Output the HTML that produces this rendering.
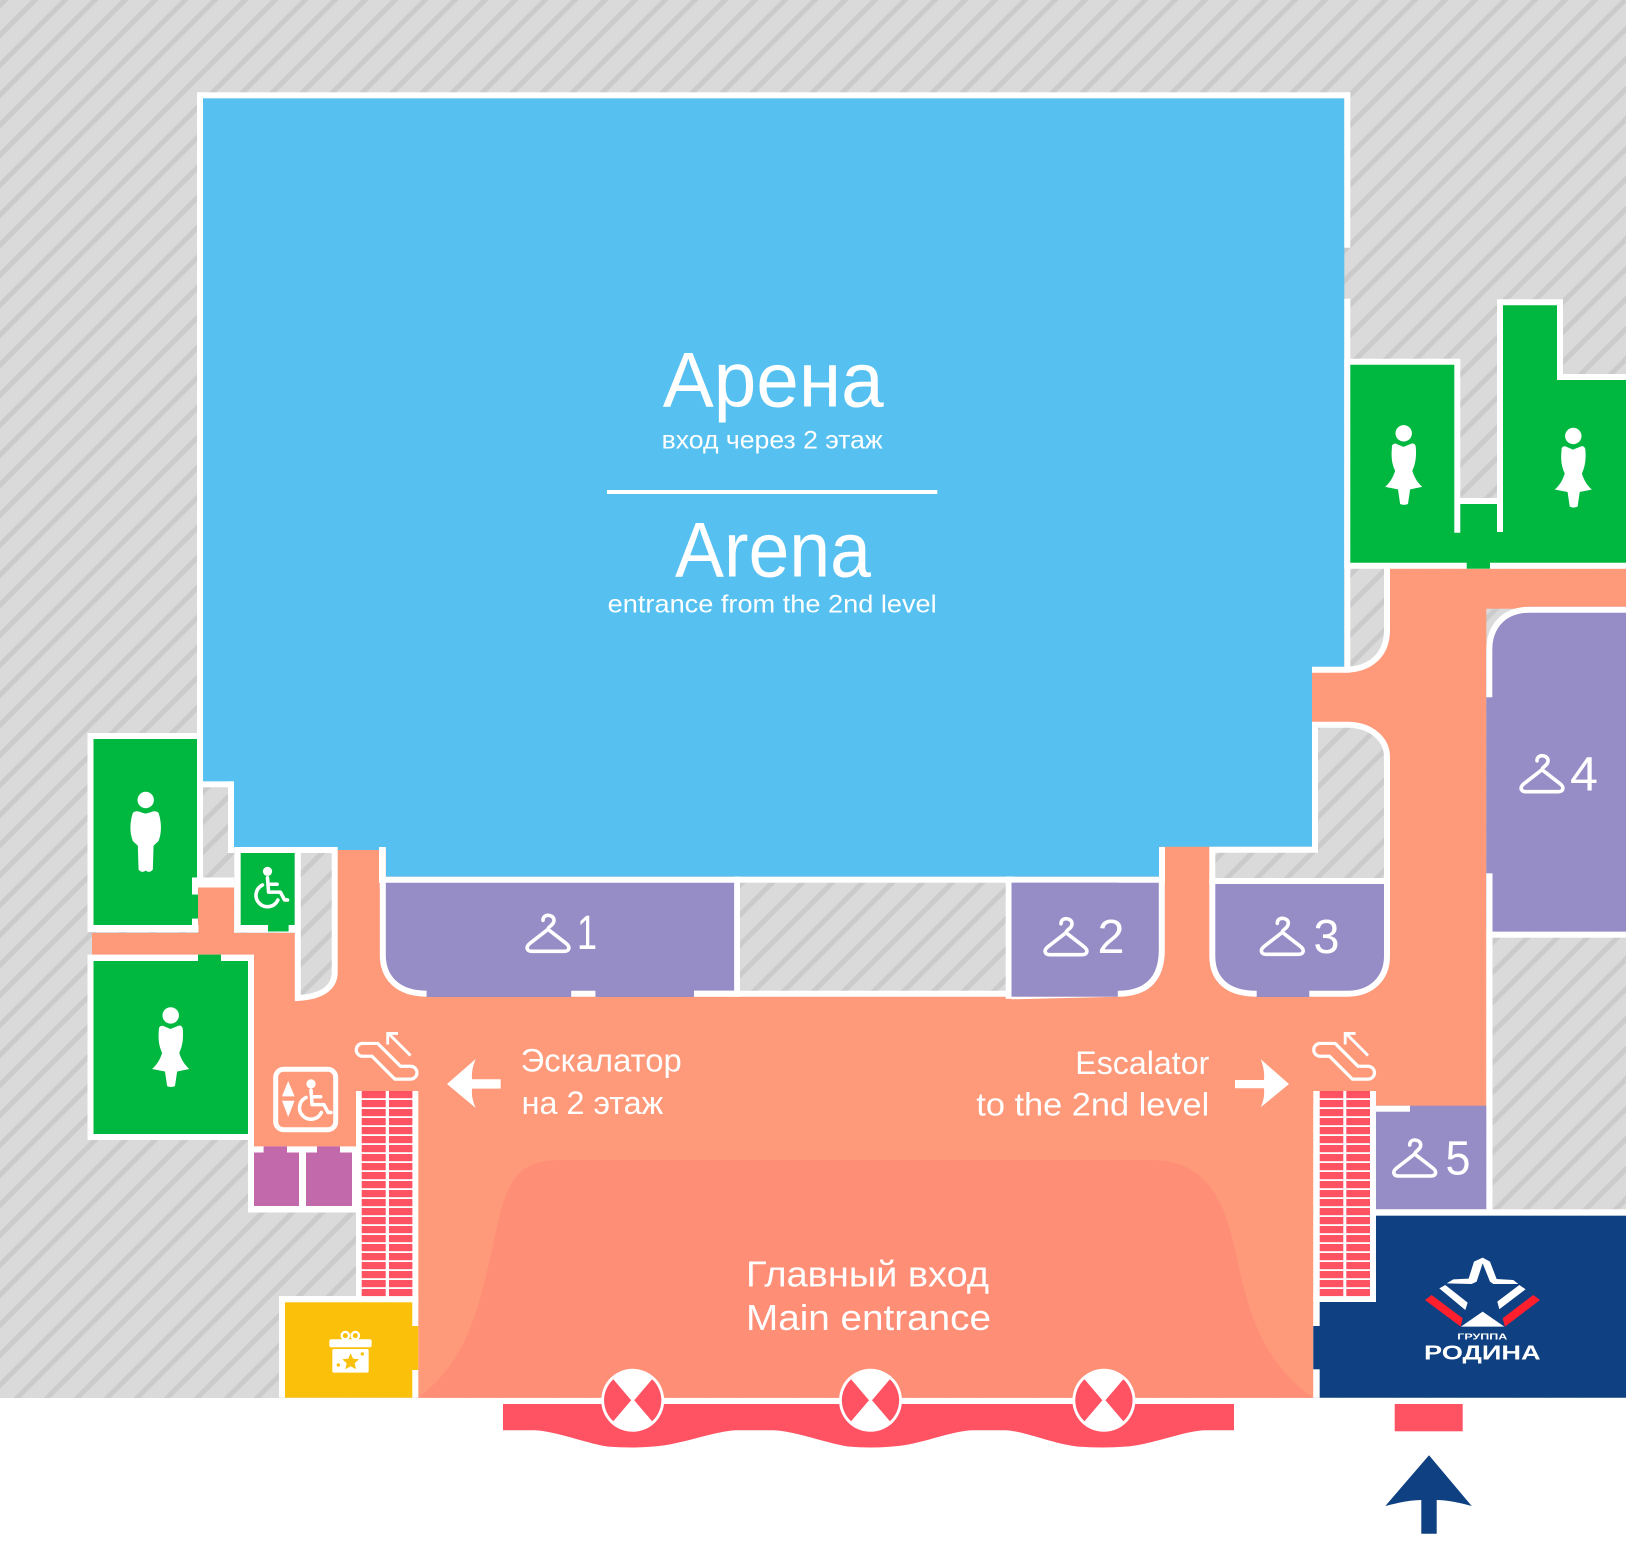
<!DOCTYPE html>
<html><head><meta charset="utf-8"><title>Floor plan</title>
<style>html,body{margin:0;padding:0;background:#fff}svg{display:block}text{font-family:"Liberation Sans",sans-serif;fill:#fff}</style></head>
<body>
<svg width="1632" height="1556" viewBox="0 0 1632 1556" xmlns="http://www.w3.org/2000/svg">
<defs>
<pattern id="h" patternUnits="userSpaceOnUse" width="30" height="30">
<rect width="30" height="30" fill="#dadada"/>
<path d="M-5 10L10 -5M-5 40L40 -5" stroke="#cbcbcc" stroke-width="5"/>
</pattern>
<pattern id="st" patternUnits="userSpaceOnUse" width="100" height="9" patternTransform="translate(0,1091)">
<rect width="100" height="7.2" fill="#ff5263"/>
</pattern>
<g id="hanger"><path d="M23 15L5 29C0 33 2 37 7 37H39C44 37 46 33 41 29L23 15C23 12 29 11 29 6C29 2 25 1 23 1C20 1 18 3 18 6" fill="none" stroke="#fff" stroke-width="3.6" stroke-linecap="round" stroke-linejoin="round"/></g>
<g id="woman"><g transform="scale(.357)"><circle r="23" fill="#fff"/><path fill="#fff" d="M-33 40C-34 32-28 28-22 29L-1 38L22 29C28 26 34 32 34 40C36 70 32 88 24 105C30 125 40 140 52 150L18 157L12 198Q0 203-10 198L-16 157L-52 150C-40 140-30 125-24 105C-32 88-36 70-33 40Z"/></g></g>
<g id="wc"><g transform="scale(.357)"><circle r="13" fill="#fff"/><path d="M0 18L3 58H36L48 80H56M3 36H27M-14 38A32 32 0 1 0 29 80" fill="none" stroke="#fff" stroke-width="10" stroke-linecap="round" stroke-linejoin="round"/></g></g>
<g id="esc"><g transform="translate(0,700) scale(.357)"><path d="M1018 962H1058L1122 1026H1150A18 18 0 0 1 1150 1062H1106L1042 998H1014A18 18 0 0 1 1018 962Z" fill="none" stroke="#fff" stroke-width="9"/><path d="M1150 996L1090 936M1086 965V934H1115" fill="none" stroke="#fff" stroke-width="8"/></g></g>
<g id="door"><circle r="31.5" fill="#fff"/><path fill="#ff5263" d="M-1.5 0L-19.4-21A28.5 28.5 0 0 0-19.4 21ZM1.5 0L19.4-21A28.5 28.5 0 0 1 19.4 21Z"/></g>
</defs>

<rect x="0" y="0" width="1632" height="1556" fill="#fff"/>
<rect x="0" y="0" width="1626" height="1398" fill="url(#h)"/>

<!-- orange floor -->
<g fill="#fe997a">
<rect x="92" y="933" width="210" height="22"/>
<rect x="198" y="887" width="36" height="46"/>
<rect x="254" y="955" width="164" height="191.4"/>
<rect x="295" y="845" width="1191" height="261"/>
<rect x="418" y="1091" width="895.3" height="306.7"/>
<rect x="1390" y="568.7" width="236" height="40"/>
<rect x="1390" y="568.7" width="96.3" height="537"/>
<rect x="1312" y="568.7" width="78" height="285"/>
</g>
<path fill="#ff8e76" d="M418 1397.7C470 1360 480 1300 492 1250C505 1190 510 1160 560 1160H1150C1200 1160 1222 1190 1235 1250C1248 1310 1260 1360 1313 1397.7Z"/>

<!-- arena -->
<polygon fill="#56c1f0" points="203,98 1344.3,98 1344.3,667 1312,667 1312,846.7 1159,846.7 1159,876.7 386,876.7 386,850 337.5,850 337.5,847 234,847 234,781.4 203,781.4"/>

<!-- upper hatch near arena -->
<path d="M1347 566H1387V630C1387 655 1370 669.7 1345 669.7Z" fill="url(#h)"/>
<path d="M1387 566V630C1387 655 1370 669.7 1345 669.7H1312" fill="none" stroke="#fff" stroke-width="6"/>

<!-- arena walls -->
<g fill="#fff">
<rect x="197" y="92.3" width="1153.3" height="6"/>
<rect x="197" y="92.3" width="6" height="795"/>
<rect x="1344.3" y="92.3" width="6" height="155.4"/>
<rect x="1344.3" y="298.7" width="6" height="374"/>
<rect x="203" y="781.4" width="31" height="6"/>
<rect x="228" y="781.4" width="6" height="72"/>
<rect x="234.3" y="847" width="103.2" height="6"/>
<rect x="379" y="847" width="6.8" height="36"/>
<rect x="1159" y="847" width="6" height="36"/>
</g>

<!-- left alcove hatch -->
<polygon fill="url(#h)" points="203,787.4 228,787.4 228,853 234.3,853 234.3,877.5 203,877.5"/>
<rect x="197" y="877.5" width="37.3" height="10" fill="#fff"/>

<!-- men's wc -->
<rect x="87.5" y="733" width="110" height="199" fill="#fff"/>
<rect x="93.5" y="739" width="103.5" height="186" fill="#00b83f"/>
<rect x="197" y="894.6" width="1" height="24" fill="#00b83f"/>
<rect x="192" y="877.5" width="6" height="17" fill="#fff"/>
<rect x="192" y="918.6" width="6" height="7" fill="#fff"/>
<rect x="197" y="925" width="1.5" height="7" fill="#fff"/>

<!-- wheelchair room -->
<rect x="234.3" y="847" width="6.4" height="85.4" fill="#fff"/>
<rect x="234.3" y="925" width="61" height="7.4" fill="#fff"/>
<rect x="240.7" y="853" width="54" height="72" fill="#00b83f"/>
<rect x="268" y="925" width="20.6" height="6.5" fill="#00b83f"/>
<path d="M297.8 850H334.7V972C334.7 990 318 997 297.8 998Z" fill="url(#h)" stroke="#fff" stroke-width="6"/>

<!-- women's wc left -->
<rect x="87.5" y="954.6" width="166.5" height="185.4" fill="#fff"/>
<rect x="93.5" y="961" width="154.5" height="173" fill="#00b83f"/>
<rect x="198" y="954.6" width="23" height="6.5" fill="#00b83f"/>

<!-- magenta rooms -->
<rect x="248" y="1140" width="108" height="72.5" fill="#fff"/>
<rect x="254" y="1140" width="102" height="6.4" fill="#fe997a"/>
<g fill="#c269ab">
<rect x="254" y="1152.5" width="45" height="53.5"/>
<rect x="306" y="1152.5" width="46" height="53.5"/>
<rect x="263.6" y="1146.4" width="23.4" height="6.2"/>
<rect x="317" y="1146.4" width="23" height="6.2"/>
</g>

<!-- rooms 1, 2 -->
<path d="M382.8 879.7H737.2V993.7H426.6C398 993.7 382.8 978 382.8 955Z" fill="#968dc7" stroke="#fff" stroke-width="6"/>
<rect x="426.6" y="990" width="144.6" height="7" fill="#968dc7"/>
<rect x="595.4" y="990" width="98.6" height="7" fill="#968dc7"/>
<rect x="694" y="990.7" width="46" height="6" fill="#fff"/>
<rect x="737" y="882" width="271.7" height="111" fill="url(#h)"/>
<rect x="734.3" y="876.7" width="5.7" height="118" fill="#fff"/>
<rect x="1005.8" y="876.7" width="5.7" height="122" fill="#fff"/>
<rect x="734.3" y="876.7" width="277.2" height="6" fill="#fff"/>
<polygon fill="#fff" points="734,990.7 1011.5,990.7 1011.5,999.3 1117,996.7 1011.5,996.7 734,996.7"/>
<path d="M1011.5 879.7H1161.8V950C1161.8 978 1148 993.7 1117.8 993.7H1011.5Z" fill="#968dc7" stroke="#fff" stroke-width="6"/>
<rect x="1008.5" y="876.7" width="6" height="6" fill="#fff"/>
<rect x="1011.5" y="882.7" width="106.3" height="114" fill="#968dc7"/>
<rect x="1005.8" y="876.7" width="5.7" height="122" fill="#fff"/>

<!-- right lower hatch and room 3 -->
<path d="M1315 724.7H1347C1372 724.7 1387 740 1387 757V881H1212.3V849.7H1315Z" fill="url(#h)" stroke="#fff" stroke-width="6"/>
<path d="M1212.3 881V956C1212.3 980 1228 993.7 1256 993.7H1347C1372 993.7 1387 978 1387 956V881Z" fill="#968dc7" stroke="#fff" stroke-width="6"/>
<rect x="1256.7" y="990" width="52.6" height="7" fill="#968dc7"/>

<!-- right wc -->
<polygon fill="#fff" points="1344.3,358.7 1460.3,358.7 1460.3,498 1497,498 1497,299.3 1563,299.3 1563,374 1626,374 1626,568.7 1344.3,568.7"/>
<polygon fill="#00b83f" points="1350.3,364.7 1454.3,364.7 1454.3,532.7 1460.3,532.7 1460.3,504 1497,504 1497,532 1503,532 1503,305.3 1557,305.3 1557,380 1626,380 1626,562.7 1350.3,562.7"/>
<rect x="1466.7" y="562" width="23.3" height="6.7" fill="#00b83f"/>

<!-- room 4 -->
<path d="M1486.3 697.3V650C1486.3 625 1505 606.7 1530 606.7H1626V931.7H1486.3Z" fill="#968dc7"/>
<path d="M1489.3 697.3V650C1489.3 625 1505 609.7 1530 609.7H1626" fill="none" stroke="#fff" stroke-width="6"/>
<rect x="1486.3" y="873.3" width="6.2" height="342" fill="#fff"/>
<rect x="1492" y="931.7" width="134" height="6" fill="#fff"/>

<!-- room 5 and Rodina -->
<rect x="1376" y="1105.7" width="110.3" height="103.6" fill="#968dc7"/>
<rect x="1376" y="1105.7" width="34" height="6" fill="#fff"/>
<rect x="1376" y="1209.3" width="250" height="6.4" fill="#fff"/>
<rect x="1376" y="1215.7" width="250" height="182" fill="#0e4082"/>
<rect x="1313.3" y="1091" width="62.7" height="211" fill="#fff"/>
<rect x="1313.3" y="1296" width="6.4" height="101.7" fill="#fff"/>
<rect x="1319.7" y="1302" width="56.5" height="95.7" fill="#0e4082"/>
<rect x="1313.3" y="1326" width="7" height="43.3" fill="#0e4082"/>

<!-- left escalator + yellow -->
<rect x="356" y="1091" width="62.3" height="212" fill="#fff"/>
<rect x="279" y="1296" width="139.3" height="101.7" fill="#fff"/>
<rect x="285" y="1302.3" width="127.3" height="95.4" fill="#fbc00a"/>
<rect x="412" y="1326" width="6.3" height="44" fill="#fbc00a"/>

<!-- steps -->
<rect x="361.7" y="1091" width="24" height="205.2" fill="url(#st)"/>
<rect x="389" y="1091" width="23.4" height="205.2" fill="url(#st)"/>
<rect x="1319.7" y="1091" width="23.6" height="205.2" fill="url(#st)"/>
<rect x="1346.3" y="1091" width="23.7" height="205.2" fill="url(#st)"/>

<!-- entrance red band -->
<path fill="#ff5263" d="M503 1404H1234V1430.3H1204C1185 1431 1150 1445 1127 1446.5Q1102 1448.5 1077 1446.5C1050 1443 1025 1431 1005 1430.3H972.5C950 1431 920 1445 893 1446.5Q870 1448.5 848 1446.5C825 1443 795 1431 773.5 1430.3H736C715 1431 680 1445 654 1446.5Q632 1448.5 607 1446.5C585 1443 555 1431 534.7 1430.3H503Z"/>
<use href="#door" x="632.7" y="1400.3"/>
<use href="#door" x="870.5" y="1400.3"/>
<use href="#door" x="1103.9" y="1400.3"/>
<rect x="1394.7" y="1404" width="68" height="27.3" fill="#ff5263"/>
<path fill="#0e4082" d="M1429 1455.3L1471.7 1506Q1450 1500 1436.7 1500V1533.7H1421.3V1500Q1408 1500 1385.3 1506Z"/>

<!-- people -->
<g transform="translate(145.7,800) scale(.357)"><circle r="23" fill="#fff"/><path fill="#fff" d="M-36 36C-30 30-20 30-12 35L0 38L12 35C20 30 30 30 36 36C44 60 46 90 36 115L22 128L20 195Q10 206 0 198Q-10 206-20 195L-22 128L-36 115C-46 90-44 60-36 36Z"/></g>
<use href="#woman" x="170.7" y="1015.4"/>
<use href="#woman" x="1403.7" y="433.3"/>
<use href="#woman" x="1573.3" y="436"/>
<use href="#wc" x="267.5" y="871.4"/>
<use href="#wc" x="311" y="1083.9"/>
<rect x="275.7" y="1069.3" width="60" height="60.4" rx="8" fill="none" stroke="#fff" stroke-width="5"/>
<polygon fill="#fff" points="288.2,1081 282,1096.4 294.6,1096.4"/>
<polygon fill="#fff" points="282,1100.7 294.6,1100.7 288.2,1117"/>

<!-- escalator icons -->
<use href="#esc"/>
<use href="#esc" x="957.5"/>

<!-- big arrows -->
<path fill="#fff" d="M447 1084L475.7 1059Q471 1070 472 1079.3H500.7V1088.6H472Q471 1098 475.7 1108Z"/>
<path fill="#fff" d="M1289 1084L1260.7 1059.3Q1265 1070 1264 1080H1235V1088.3H1264Q1265 1098 1260.7 1107.3Z"/>

<!-- hangers -->
<use href="#hanger" x="525" y="914.3"/>
<use href="#hanger" x="1043" y="917.7"/>
<use href="#hanger" x="1259.3" y="917.3"/>
<use href="#hanger" x="1519" y="754.7"/>
<use href="#hanger" x="1391.7" y="1139"/>
<text x="577" y="949" font-size="48" textLength="20" lengthAdjust="spacingAndGlyphs">1</text>
<text x="1097.5" y="953" font-size="48" textLength="27" lengthAdjust="spacingAndGlyphs">2</text>
<text x="1313.5" y="953" font-size="48" textLength="26" lengthAdjust="spacingAndGlyphs">3</text>
<text x="1570" y="790.7" font-size="48" textLength="28" lengthAdjust="spacingAndGlyphs">4</text>
<text x="1445.5" y="1174.7" font-size="48" textLength="25" lengthAdjust="spacingAndGlyphs">5</text>

<!-- gift -->
<g transform="translate(200,1050) scale(.3333)">
<rect x="388" y="868" width="127" height="24" rx="6" fill="#fff"/>
<circle cx="436" cy="857" r="11" fill="none" stroke="#fff" stroke-width="7"/>
<circle cx="466" cy="857" r="11" fill="none" stroke="#fff" stroke-width="7"/>
<rect x="397" y="897" width="109" height="71" rx="5" fill="#fff"/>
<polygon fill="#fbc00a" points="452,910 459,926 477,928 464,940 468,958 452,949 436,958 440,940 427,928 445,926"/>
<circle cx="415" cy="945" r="5" fill="#fbc00a"/><circle cx="487" cy="912" r="5" fill="#fbc00a"/>
</g>

<!-- logo -->
<g transform="translate(1280,1080) scale(.3333)">
<polygon fill="#fff" points="500,610 520,598 566,596 582,545 608,533 630,545 650,597 700,600 715,612 640,612 630,605 608,550 590,605 575,612"/>
<polygon fill="#fff" points="478,625 496,615 563,668 556,690"/>
<polygon fill="#fff" points="737,628 718,615 652,665 658,688"/>
<polygon fill="#ff1f2d" points="435,660 455,645 548,715 542,740"/>
<polygon fill="#ff1f2d" points="780,660 760,645 668,715 675,740"/>
<polygon fill="#fff" points="543,740 608,695 673,740"/>
</g>
<text x="1457.3" y="1339.3" font-size="8.2" font-weight="bold" textLength="50" lengthAdjust="spacingAndGlyphs">ГРУППА</text>
<text x="1424" y="1359.3" font-size="20" font-weight="bold" textLength="116.7" lengthAdjust="spacingAndGlyphs">РОДИНА</text>

<!-- labels -->
<text x="662.7" y="406.5" font-size="78" textLength="221" lengthAdjust="spacingAndGlyphs">Арена</text>
<text x="661.7" y="448.5" font-size="25" textLength="221" lengthAdjust="spacingAndGlyphs">вход через 2 этаж</text>
<rect x="607" y="490" width="330.3" height="4" fill="#fff"/>
<text x="675" y="576.5" font-size="78" textLength="196" lengthAdjust="spacingAndGlyphs">Arena</text>
<text x="607.7" y="612.7" font-size="25" textLength="329" lengthAdjust="spacingAndGlyphs">entrance from the 2nd level</text>
<text x="520.7" y="1071.7" font-size="32" textLength="161" lengthAdjust="spacingAndGlyphs">Эскалатор</text>
<text x="521.7" y="1114" font-size="32" textLength="141.6" lengthAdjust="spacingAndGlyphs">на 2 этаж</text>
<text x="1075.3" y="1074" font-size="32" textLength="134" lengthAdjust="spacingAndGlyphs">Escalator</text>
<text x="976.3" y="1115.5" font-size="32" textLength="233" lengthAdjust="spacingAndGlyphs">to the 2nd level</text>
<text x="746" y="1286.5" font-size="36" textLength="243" lengthAdjust="spacingAndGlyphs">Главный вход</text>
<text x="746" y="1330" font-size="36" textLength="245" lengthAdjust="spacingAndGlyphs">Main entrance</text>
</svg>
</body></html>
